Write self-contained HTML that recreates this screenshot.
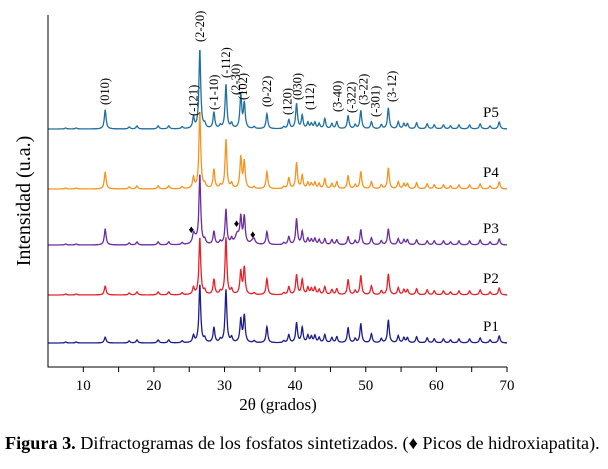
<!DOCTYPE html>
<html><head><meta charset="utf-8"><style>
body{margin:0;background:#fff;width:608px;height:464px;overflow:hidden}
svg text{font-family:"Liberation Serif",serif}
</style></head><body>
<svg id="chart" width="608" height="464" viewBox="0 0 608 464">
<g id="plot"></g>
<line x1="48" y1="15" x2="48" y2="367" stroke="#000" stroke-width="1"/>
<line x1="47.5" y1="367" x2="507" y2="367" stroke="#000" stroke-width="1"/>
<g id="ticks"></g>
<text transform="translate(30,201) rotate(-90)" text-anchor="middle" font-size="20">Intensidad (u.a.)</text>
<text x="278" y="410" text-anchor="middle" font-size="17">2θ (grados)</text>
<text x="5" y="449" font-size="18.2"><tspan font-weight="bold">Figura 3.</tspan> Difractogramas de los fosfatos sintetizados. (♦ Picos de hidroxiapatita).</text>
<g id="labels"></g>
</svg>
<script>
const xMin = 5, xMax = 70;
const xTicks = [10,20,30,40,50,60,70];
const minorTicks = [15,25,35,45,55,65];
const peakPos = [7.5,9,13.1,16.5,17.6,20.6,22.1,24,25.6,26.5,27.2,28.5,29.4,30.2,31.0,32.3,32.8,34.2,36.0,38.4,39.1,40.2,41.0,41.8,42.3,42.8,43.4,44.2,45.2,45.9,47.5,48.5,49.3,50.8,52.2,53.2,54.6,55.4,55.9,57.2,58.7,59.7,61.0,62.0,63.2,64.7,66.2,67.6,68.9];
const p5 = [1,1,19,2,3,3,3,2,11,79,4,16,3,44,5,33,25,2,15,2,9,25,13,6,5,6,5,10,5,7,13,4,18,7,4,21,7,5,5,6,5,4,4,3,4,4,5,3,7];
const p4 = [1,1,17,2,3,3,3,2,11,77,4,19,3,49,5,31,27,2,17,2,11,26,13,6,5,6,5,10,5,7,13,4,17,7,4,21,7,5,5,6,5,4,4,3,4,4,5,3,7];
const p3 = [1,1,16,2,3,3,3,2,7,69,4,13,3,35,5,25,27,3,13,2,8,26,13,6,5,6,5,6,5,5,8,4,15,7,4,16,6,5,5,5,4,4,4,3,4,4,5,3,6];
const p2 = [1,1,9,2,3,3,3,2,7,57,4,15,3,57,5,23,27,2,16,2,8,20,15,7,6,7,5,8,5,6,15,4,19,9,4,21,7,5,5,6,5,4,4,3,4,4,5,3,7];
const p1 = [1,1,6,2,3,3,3,2,7,58,4,15,3,53,5,23,27,2,16,2,8,20,15,7,6,7,5,8,5,6,15,4,19,9,4,23,7,5,5,6,5,4,4,3,4,4,5,3,7];
const haPos = [25.8,31.8,34.0];
const haP3 = [6,10,4];
const seriesNames = ["P5","P4","P3","P2","P1"];
const seriesColors = ["#1f6fa0","#f7941d","#6a2ca0","#e8202a","#1c1c8c"];
const baselines = [129,189,245,295,343];
const hkl = ["(010)","(-121)","(2-20)","(-1-10)","(-112)","(2-30)","(102)","(0-22)","(120)","(030)","(112)","(3-40)","(-322)","(3-22)","(-301)","(3-12)"];
const hklPos = [13.1,25.6,26.5,28.5,30.2,31.6,32.6,36.0,38.9,40.3,42.1,46.0,48.0,49.7,51.4,53.7];
const hklBottom = [105,116,42,110,78,95,100,107,115,100,110,112,113,105,117,102];
const diamondPos = [25.3,31.7,34.0];
const diamondY = [229,223,234];

const xs = v => 48 + (v - xMin) / (xMax - xMin) * 459;
const NS = "http://www.w3.org/2000/svg";
const plot = document.getElementById('plot');
const all = [p5,p4,p3,p2,p1];
function intensity(x, pos, h, w){
  let s = 0;
  for (let i=0;i<pos.length;i++){ const d=(x-pos[i])/w; s += h[i]/(1+d*d); }
  return s;
}
all.forEach((arr,si)=>{
  let d = "";
  for (let k=0; k<=1625; k++){
    const x = xMin + k*0.04;
    let y = intensity(x, peakPos, arr, 0.15);
    if (si===2) y += intensity(x, haPos, haP3, 0.35);
    d += (d?"L":"M") + xs(x).toFixed(1) + "," + (baselines[si]-y).toFixed(1);
  }
  const p = document.createElementNS(NS,'path');
  
  
  p.setAttribute('d', d);
  p.setAttribute('fill','none');
  p.setAttribute('stroke', seriesColors[si]);
  p.setAttribute('stroke-width','1.3');
  plot.appendChild(p);
  const t = document.createElementNS(NS,'text');
  
  
  t.setAttribute('x', 483); t.setAttribute('y', baselines[si]-12);
  t.setAttribute('font-size','15');
  t.textContent = seriesNames[si];
  plot.appendChild(t);
});
diamondPos.forEach((v,i)=>{
  const t = document.createElementNS(NS,'text');
  
  
  t.setAttribute('x', xs(v)); t.setAttribute('y', diamondY[i]+4);
  t.setAttribute('text-anchor','middle'); t.setAttribute('font-size','11');
  t.textContent = "♦";
  plot.appendChild(t);
});
const ticks = document.getElementById('ticks');
xTicks.concat(minorTicks).forEach(v=>{
  const l = document.createElementNS(NS,'line');
  
  
  l.setAttribute('x1', xs(v)); l.setAttribute('x2', xs(v));
  l.setAttribute('y1', 367); l.setAttribute('y2', 372);
  l.setAttribute('stroke','#000');
  ticks.appendChild(l);
});
xTicks.forEach(v=>{
  const t = document.createElementNS(NS,'text');
  
  
  t.setAttribute('x', xs(v)); t.setAttribute('y', 390);
  t.setAttribute('text-anchor','middle'); t.setAttribute('font-size','15');
  t.textContent = v;
  ticks.appendChild(t);
});
const labels = document.getElementById('labels');
hkl.forEach((s,i)=>{
  const t = document.createElementNS(NS,'text');
  
  
  t.setAttribute('transform', 'translate(' + (xs(hklPos[i])+4) + ',' + hklBottom[i] + ') rotate(-90)');
  t.setAttribute('font-size','12.5');
  t.textContent = s;
  labels.appendChild(t);
});
</script>
</body></html>
